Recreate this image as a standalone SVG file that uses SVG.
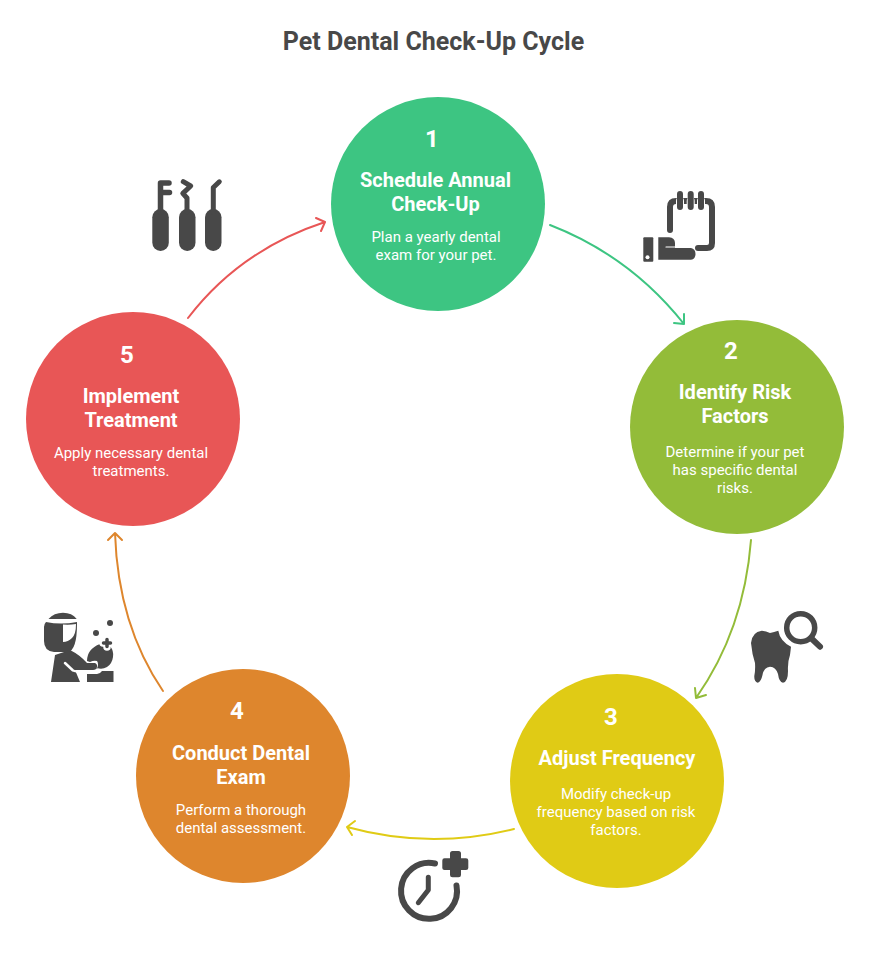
<svg xmlns="http://www.w3.org/2000/svg" width="871" height="955" viewBox="0 0 871 955">
<style>
text{font-family:"Roboto","Liberation Sans",sans-serif;text-anchor:middle}
.t{font-size:25px;font-weight:700;fill:#484848}
.n{font-size:24px;font-weight:700;fill:#fff}
.h{font-size:20px;font-weight:700;fill:#fff}
.d{font-size:15px;font-weight:400;fill:#fff}
.c{fill:none;stroke-width:2;stroke-linecap:round;stroke-linejoin:round}
.i{fill:#484848}
.s{fill:none;stroke:#484848;stroke-linecap:round;stroke-linejoin:round}
.w{fill:none;stroke:#fff;stroke-linecap:round;stroke-linejoin:round}
</style>
<rect width="871" height="955" fill="#fff"/>
<text class="t" x="433.5" y="50">Pet Dental Check-Up Cycle</text>
<g id="connectors">
<path class="c" stroke="#3DC582" d="M550 225Q630 256 684 324M684 314L684 324L674 323"/>
<path class="c" stroke="#93BC39" d="M751 540Q744 630 696 698M695 688L696 698L706 695"/>
<path class="c" stroke="#E0CB15" d="M514 829Q430 850 347 827M355 821L347 827L352 835"/>
<path class="c" stroke="#DE862D" d="M163 691Q118 625 115 533M108 540L115 533L122 540"/>
<path class="c" stroke="#E85656" d="M188 318Q240 250 325 222M316 218L325 222L321 231"/>
</g>
<g id="node-1">
<circle cx="438" cy="204" r="107" fill="#3DC582"/>
<text class="n" x="432" y="146.500">1</text>
<text class="h" x="435.500" y="186.500">Schedule Annual</text>
<text class="h" x="435.500" y="210.500">Check-Up</text>
<text class="d" x="436" y="242">Plan a yearly dental</text>
<text class="d" x="436" y="260">exam for your pet.</text>
</g>
<g id="node-2">
<circle cx="737" cy="427" r="107" fill="#93BC39"/>
<text class="n" x="731" y="358.500">2</text>
<text class="h" x="735" y="398.500">Identify Risk</text>
<text class="h" x="735" y="422.500">Factors</text>
<text class="d" x="735" y="457">Determine if your pet</text>
<text class="d" x="735" y="475">has specific dental</text>
<text class="d" x="735" y="493">risks.</text>
</g>
<g id="node-3">
<circle cx="617" cy="781" r="107" fill="#E0CB15"/>
<text class="n" x="611" y="724.500">3</text>
<text class="h" x="617" y="764.500">Adjust Frequency</text>
<text class="d" x="616" y="799">Modify check-up</text>
<text class="d" x="616" y="817">frequency based on risk</text>
<text class="d" x="616" y="835">factors.</text>
</g>
<g id="node-4">
<circle cx="243" cy="776" r="107" fill="#DE862D"/>
<text class="n" x="237" y="719">4</text>
<text class="h" x="241" y="759.500">Conduct Dental</text>
<text class="h" x="241" y="783.500">Exam</text>
<text class="d" x="241" y="815">Perform a thorough</text>
<text class="d" x="241" y="833">dental assessment.</text>
</g>
<g id="node-5">
<circle cx="133" cy="419" r="107" fill="#E85656"/>
<text class="n" x="127" y="362.500">5</text>
<text class="h" x="131" y="402.500">Implement</text>
<text class="h" x="131" y="426.500">Treatment</text>
<text class="d" x="131" y="458">Apply necessary dental</text>
<text class="d" x="131" y="476">treatments.</text>
</g>
<g id="icon-tools">
<rect class="i" x="152.300" y="209" width="16.500" height="42" rx="8.200"/>
<rect class="i" x="179" y="209" width="16.500" height="42" rx="8.200"/>
<rect class="i" x="205" y="209" width="16.500" height="42" rx="8.200"/>
<path class="s" stroke-width="5.500" d="M160.500 212V183H169M160.500 192.500H169.500"/>
<path class="s" stroke-width="5" d="M187 212V198L182.800 193.300L190.700 186L183.300 181.700"/>
<path class="s" stroke-width="5" d="M213.300 212V187.500L219.300 181.800"/>
</g>
<g id="icon-calendar">
<path class="s" stroke-width="6" d="M670 230V207Q670 201 676 201H706Q712 201 712 207V243Q712 248 707 248H698"/>
<path class="w" stroke-width="8" d="M680 201V206M690.700 201V206M701 201V206"/>
<path class="s" stroke-width="6" d="M680 194V207M690.700 194V207M701 194V207"/>
<rect class="i" x="643.300" y="237.300" width="10" height="24.500" rx="1"/>
<circle cx="647.500" cy="257.300" r="2" fill="#fff"/>
<path class="i" d="M658.300 237.300H669Q675 238 675 243V248H691Q695.500 249 695.500 254Q695.500 259 691 259.800H658.300Z"/>
<path class="w" stroke-width="1.200" d="M666 247H675"/>
</g>
<g id="icon-tooth">
<path class="i" d="M778.300 630.700Q780 641 791 646.700Q790.500 651 790 655Q787.500 662 788 671Q788 682 783 682.700Q779 682 778 674Q776 667 770 666.700Q764 667 762.500 675Q761 682 757.700 682.700Q754 682 754.300 676Q755.500 670 755 663Q752 654 751 643Q752 632 761.700 630.700Q766 631 770 633Q774 632 778.300 630.700Z"/>
<circle cx="800.700" cy="627.700" r="14" fill="none" stroke="#484848" stroke-width="5.500"/>
<path class="s" stroke-width="6" d="M812 639L820 646.700"/>
</g>
<g id="icon-clock">
<path class="s" stroke-width="6" d="M435 863.500A28 28 0 1 0 456.500 885.500"/>
<path class="s" stroke-width="5" d="M428.300 877.300V890L418.300 902.700"/>
<path class="i" d="M450 853.500Q450 851 452.500 851H458.500Q461 851 461 853.500V858.300H466Q468.300 858.300 468.300 860.500V868Q468.300 870 466 870H461V875Q461 877.300 458.500 877.300H452.500Q450 877.300 450 875V870H444.500Q442.300 870 442.300 868V860.500Q442.300 858.300 444.500 858.300H450Z"/>
</g>
<g id="icon-vet">
<path class="i" d="M48.500 619Q54 612.700 63 612.700Q72 612.700 76.700 619Z"/>
<path class="i" d="M46 622Q61 625 77 622L77 624Q77 650 68 652H54Q44 651 44 641V627Q44 624 46 622Z"/>
<path fill="#fff" d="M63 624.500Q70 625 76 624Q76 634 72 638Q68 642 63 642Z"/>
<path class="i" d="M55 655L70 650Q80 655 87 663H95Q97.500 664 97 667Q96.500 670 93 670H75L80 682H51Z"/>
<path class="w" stroke-width="2.500" d="M65 663L73 670.500Q75 671.500 78 671.500H98"/>
<path class="i" d="M100 644Q105 642 110 646Q114 651 113 657Q112 664 107 667Q102 670 97 668Q94 669 92 668.500H97Q99 664 97 661Q94 660 90 662L87 661Q87 649 100 644Z"/>
<path class="w" stroke-width="7.500" d="M107 639V647M103 643H111"/>
<path class="s" stroke-width="3.500" d="M107 639.500V646.500M103.500 643H110.500"/>
<path class="i" d="M87 674L97 674Q100 674 102 671H113.500V682H87Z"/>
<circle cx="96" cy="633" r="3" class="i"/>
<circle cx="110" cy="623" r="3" class="i"/>
</g>
</svg>
